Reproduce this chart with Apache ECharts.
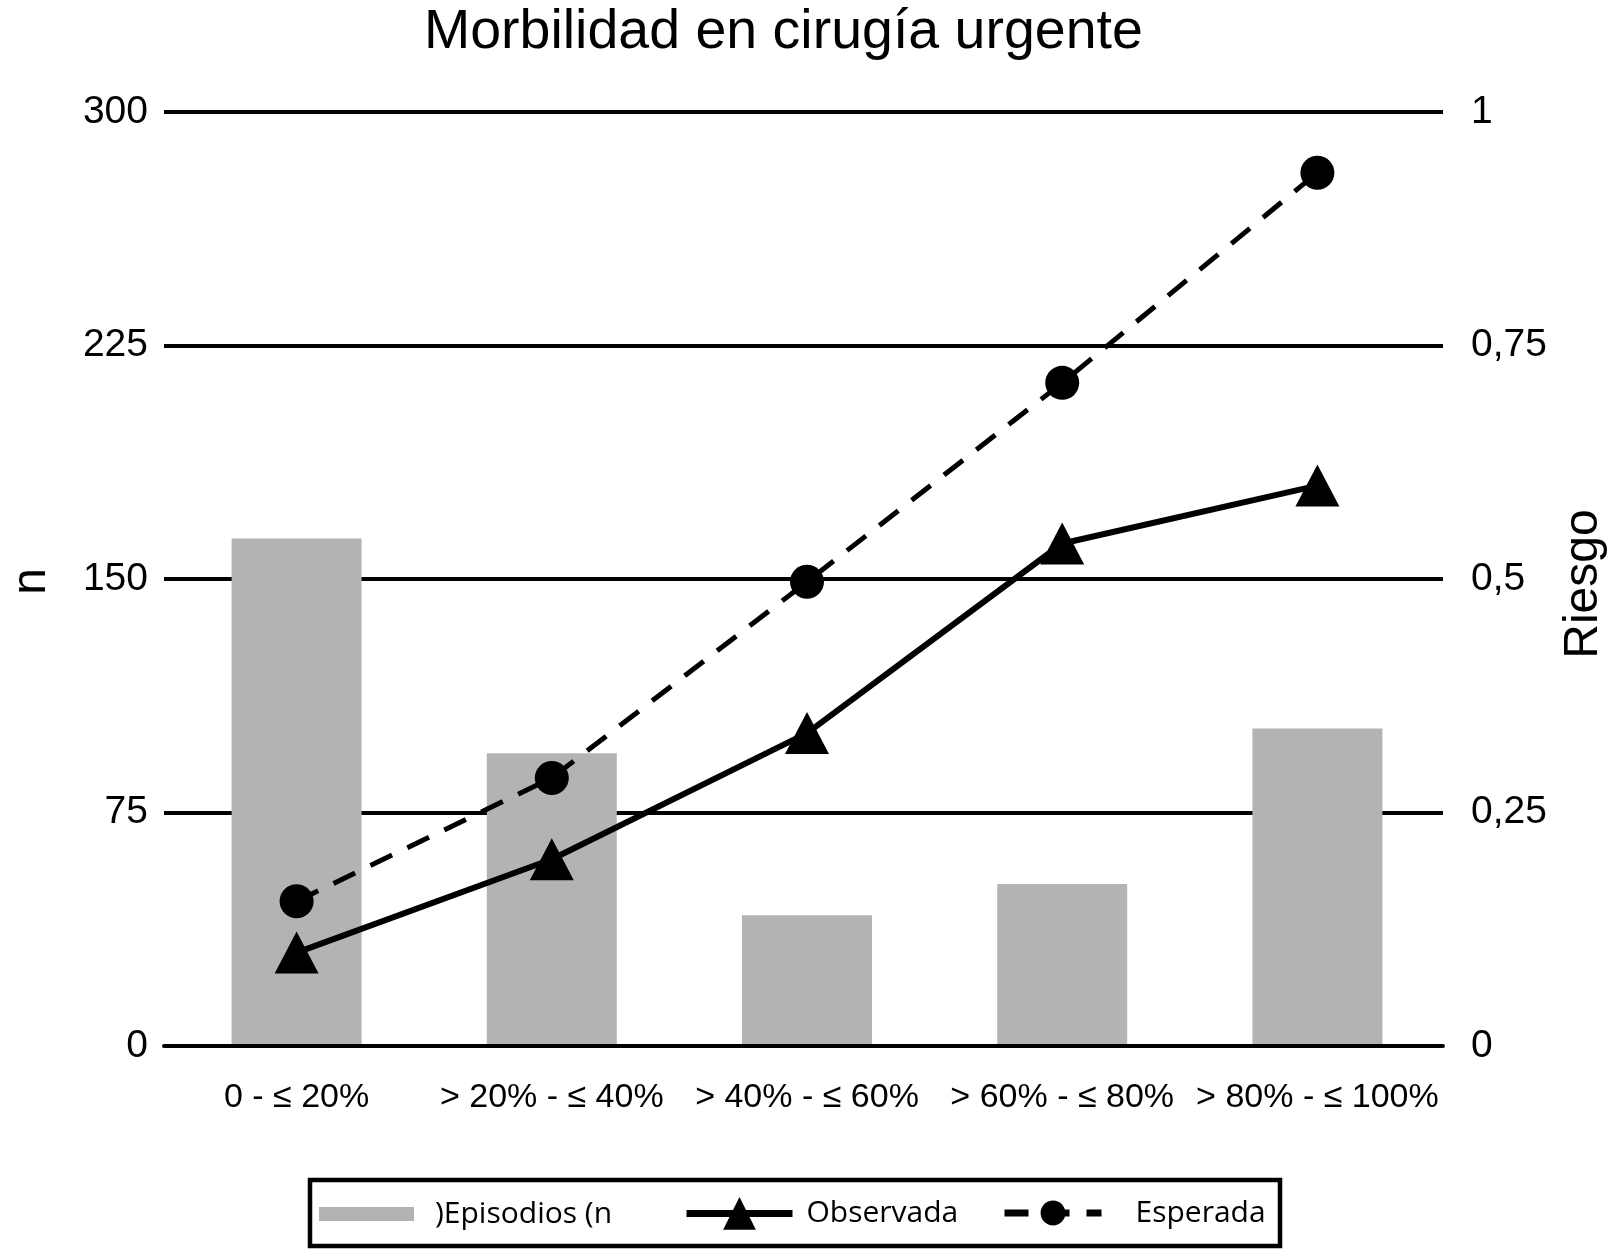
<!DOCTYPE html>
<html><head><meta charset="utf-8">
<script src="https://cdn.jsdelivr.net/npm/echarts@6/dist/echarts.min.js"></script>
<style>html,body{margin:0;padding:0;background:#fff}#c{width:1611px;height:1250px}</style>
</head><body><div id="c"></div>
<script>
const chartTitle = 'Morbilidad en cirugía urgente';
const categories = ['0 - ≤ 20%', '> 20% - ≤ 40%', '> 40% - ≤ 60%', '> 60% - ≤ 80%', '> 80% - ≤ 100%'];
const episodios = [163, 94, 42, 52, 102];
const observada = [0.10, 0.20, 0.335, 0.538, 0.60];
const esperada = [0.155, 0.287, 0.497, 0.71, 0.935];
const rightTickLabels = ['0', '0,25', '0,5', '0,75', '1'];
const seriesNames = [')Episodios (n', 'Observada', 'Esperada'];

const chart = echarts.init(document.getElementById('c'), null, {renderer: 'canvas'});
const mainFont = 'Liberation Sans';
const legendFont = 'Open Sans';
const legendText = (pad) => ({fontFamily: legendFont, fontSize: 30, color: '#000', padding: pad});
chart.setOption({
  animation: false,
  backgroundColor: '#fff',
  title: {
    text: chartTitle, left: 419, top: 0,
    textStyle: {fontFamily: mainFont, fontSize: 55.5, fontWeight: 'normal', color: '#000'}
  },
  grid: [
    {left: 164, right: 168, top: 112, bottom: 204, containLabel: false, outerBoundsMode: 'none'},
    {left: 169, right: 166, top: 112, bottom: 204, containLabel: false, outerBoundsMode: 'none'}
  ],
  xAxis: [
    {
      type: 'category', data: categories, gridIndex: 0, z: 3,
      axisLine: {show: true, lineStyle: {color: '#000', width: 4}},
      axisTick: {show: false}, axisLabel: {show: false}, splitLine: {show: false}
    },
    {
      type: 'category', data: categories, gridIndex: 1,
      axisLine: {show: false}, axisTick: {show: false},
      axisLabel: {fontFamily: mainFont, fontSize: 34, color: '#000', margin: 35, interval: 0}
    }
  ],
  yAxis: [
    {
      type: 'value', min: 0, max: 300, interval: 75, gridIndex: 0,
      name: 'n', nameLocation: 'middle', nameRotate: 90, nameGap: 108,
      nameTextStyle: {fontFamily: mainFont, fontSize: 48, color: '#000', padding: [0, 5, 0, 0]},
      axisLine: {show: false}, axisTick: {show: false},
      axisLabel: {fontFamily: mainFont, fontSize: 39, color: '#000', margin: 16, padding: [0, 0, 12, 0]},
      splitLine: {show: true, lineStyle: {color: '#000', width: 4}}
    },
    {
      type: 'value', min: 0, max: 300, interval: 75, gridIndex: 1,
      axisLine: {show: false}, axisTick: {show: false}, axisLabel: {show: false}, splitLine: {show: false}
    },
    {
      type: 'value', min: 0, max: 1, interval: 0.25, position: 'right', gridIndex: 1,
      name: 'Riesgo', nameLocation: 'middle', nameRotate: 90, nameGap: 115,
      nameTextStyle: {fontFamily: mainFont, fontSize: 48, color: '#000', padding: [0, 10, 0, 0]},
      axisLine: {show: false}, axisTick: {show: false},
      axisLabel: {
        fontFamily: mainFont, fontSize: 39, color: '#000', margin: 26,
        formatter: v => rightTickLabels[Math.round(v / 0.25)]
      },
      splitLine: {show: false}
    }
  ],
  legend: [
    {
      data: [seriesNames[0]], left: 319, top: 1199, padding: 0,
      itemWidth: 95, itemHeight: 14, icon: 'rect',
      textStyle: legendText([0, 0, 0, 16])
    },
    {
      data: [seriesNames[1]], left: 683, top: 1197, padding: 0,
      itemWidth: 106, itemHeight: 41,
      lineStyle: {width: 7, type: 'solid'},
      textStyle: legendText([0, 0, 0, 9])
    },
    {
      data: [seriesNames[2]], left: 1001, top: 1198, padding: 0,
      itemWidth: 97, itemHeight: 31,
      lineStyle: {width: 7, type: [24, 17]},
      textStyle: legendText([0, 0, 0, 29])
    }
  ],
  graphic: [{
    type: 'rect', silent: true,
    shape: {x: 310, y: 1180, width: 970, height: 66},
    style: {fill: 'none', stroke: '#000', lineWidth: 4.5}
  }],
  series: [
    {
      name: seriesNames[0], type: 'bar', data: episodios, xAxisIndex: 1, yAxisIndex: 1,
      barWidth: 130, itemStyle: {color: '#b3b3b3'}
    },
    {
      name: seriesNames[1], type: 'line', data: observada, xAxisIndex: 1, yAxisIndex: 2, z: 4,
      symbol: 'triangle', symbolSize: [44, 42],
      lineStyle: {color: '#000', width: 6},
      itemStyle: {color: '#000'}
    },
    {
      name: seriesNames[2], type: 'line', data: esperada, xAxisIndex: 1, yAxisIndex: 2, z: 4,
      symbol: 'circle', symbolSize: 34,
      lineStyle: {color: '#000', width: 5, type: [24, 17]},
      itemStyle: {color: '#000'}
    }
  ]
});
</script>
</body></html>
